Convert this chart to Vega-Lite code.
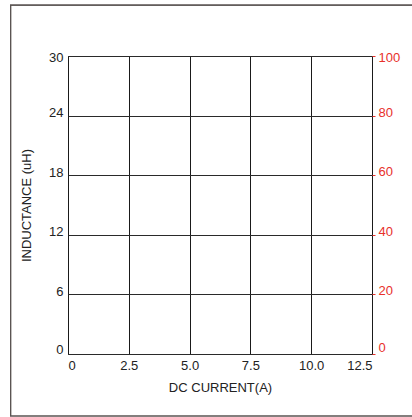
{
  "$schema": "https://vega.github.io/schema/vega-lite/v6.json",
  "width": 304,
  "height": 298,
  "autosize": {"type": "none"},
  "padding": {"left": 68, "top": 56, "right": 40, "bottom": 63},
  "background": "white",
  "config": {
    "view": {"stroke": "#111111", "strokeWidth": 1},
    "font": "Liberation Sans"
  },
  "data": {
    "values": [
      {"current": 0, "inductance": 0, "efficiency": 0},
      {"current": 12.5, "inductance": 30, "efficiency": 100}
    ]
  },
  "layer": [
    {
      "mark": {"type": "rect", "fillOpacity": 0, "stroke": "#5a5452", "strokeWidth": 1.2, "clip": false},
      "encoding": {
        "x": {"datum": -2.36, "type": "quantitative", "scale": {"domain": [0, 12.5], "nice": false}},
        "x2": {"datum": 14.5},
        "y": {"datum": 35.13, "type": "quantitative", "scale": {"domain": [0, 30], "nice": false}, "axis": null},
        "y2": {"datum": -6.24}
      }
    },
    {
      "mark": {"type": "point", "opacity": 0},
      "encoding": {
        "x": {
          "field": "current",
          "type": "quantitative",
          "scale": {"domain": [0, 12.5], "nice": false},
          "axis": {
            "values": [0, 2.5, 5, 7.5, 10, 12.5],
            "labelExpr": "datum.value == 0 ? '0' : format(datum.value, '.1f')",
            "ticks": false,
            "domain": false,
            "grid": true,
            "gridColor": "#1a1a1a",
            "gridOpacity": 1,
            "gridWidth": 1,
            "labelPadding": 5,
            "labelFontSize": 13,
            "labelColor": "#222222",
            "title": "DC CURRENT(A)",
            "titleFontSize": 13,
            "titleFontWeight": "normal",
            "titleColor": "#222222",
            "titlePadding": 9
          }
        },
        "y": {
          "field": "inductance",
          "type": "quantitative",
          "scale": {"domain": [0, 30], "nice": false},
          "axis": {
            "values": [0, 6, 12, 18, 24, 30],
            "format": "d",
            "ticks": false,
            "domain": false,
            "grid": true,
            "gridColor": "#2a2a2a",
            "gridOpacity": 1,
            "gridWidth": 1,
            "labelPadding": 5,
            "labelOffset": {
              "condition": [
                {"test": "datum.value == 30", "value": 1},
                {"test": "datum.value == 0", "value": -5}
              ],
              "value": -3
            },
            "labelFontSize": 13,
            "labelColor": "#222222",
            "title": "INDUCTANCE (uH)",
            "titleFontSize": 13,
            "titleFontWeight": "normal",
            "titleColor": "#222222",
            "titlePadding": 15
          }
        }
      }
    },
    {
      "mark": {"type": "point", "opacity": 0},
      "encoding": {
        "x": {"field": "current", "type": "quantitative"},
        "y": {
          "field": "efficiency",
          "type": "quantitative",
          "scale": {"domain": [0, 100], "nice": false},
          "axis": {
            "orient": "right",
            "values": [0, 20, 40, 60, 80, 100],
            "format": "d",
            "ticks": true,
            "tickColor": "#e8302a",
            "tickSize": 3,
            "tickWidth": 1,
            "domain": false,
            "grid": false,
            "labelPadding": 3,
            "labelOffset": {
              "condition": [
                {"test": "datum.value == 100", "value": 1},
                {"test": "datum.value == 0", "value": -7}
              ],
              "value": -3.5
            },
            "labelFontSize": 13,
            "labelColor": "#e8302a",
            "title": null
          }
        }
      }
    }
  ],
  "resolve": {"scale": {"y": "independent"}}
}
